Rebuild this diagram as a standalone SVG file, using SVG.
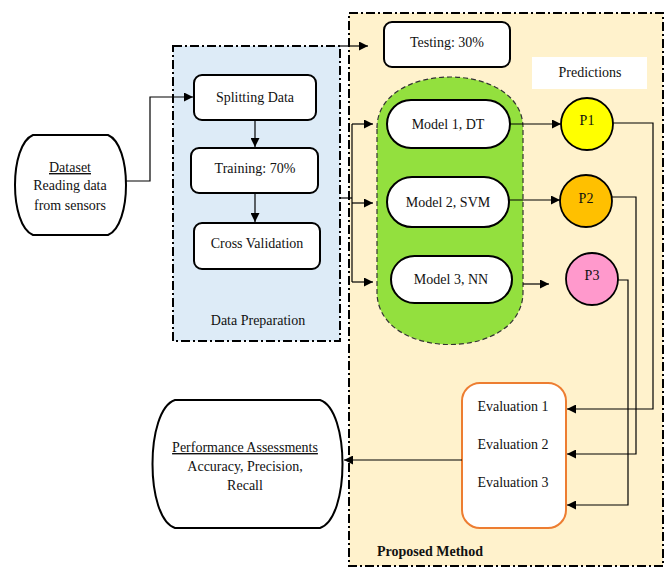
<svg xmlns="http://www.w3.org/2000/svg" width="668" height="569" viewBox="0 0 668 569">
<defs>
<style>
text{font-family:"Liberation Serif","Times New Roman",serif;font-size:14px;fill:#111;text-anchor:middle}
.box{fill:#fff;stroke:#000;stroke-width:2}
.region{stroke:#000;stroke-width:2;stroke-dasharray:9,3,2,3}
.conn{fill:none;stroke:#000;stroke-width:1.2}
.circ{stroke:#000;stroke-width:1.8}
</style>
<marker id="ah" viewBox="0 0 10 10" refX="10" refY="5" markerWidth="9" markerHeight="9" markerUnits="userSpaceOnUse" orient="auto">
<path d="M0,0 L10,5 L0,10 Z" fill="#000"/>
</marker>
</defs>
<rect width="668" height="569" fill="#fff"/>

<g id="proposed-method">
<rect class="region" x="349" y="13" width="314" height="553" fill="#FFF2CC"/>
<text x="430" y="556" font-weight="bold">Proposed Method</text>
</g>
<g id="data-preparation">
<rect class="region" x="173" y="46" width="167" height="295" fill="#DDEBF7"/>
<text x="258" y="325">Data Preparation</text>
</g>

<g id="models-group">
<path d="M377,128 C377,60 523,60 523,128 L523,292 C523,362 377,362 377,292 Z" fill="#93E03E" stroke="#333" stroke-width="1.2" stroke-dasharray="5,3"/>
</g>

<g id="dataset">
<path class="box" d="M33,135 L108,135 C132,145 132,225 108,235 L33,235 C9,225 9,145 33,135 Z"/>
<text x="70" y="172" text-decoration="underline">Dataset</text>
<text x="70" y="190">Reading data</text>
<text x="70" y="210">from sensors</text>
</g>
<g id="splitting">
<rect class="box" x="194" y="75" width="122" height="45" rx="8"/>
<text x="255" y="102">Splitting Data</text>
</g>
<g id="training">
<rect class="box" x="191" y="148" width="127" height="45" rx="8"/>
<text x="255" y="173">Training: 70%</text>
</g>
<g id="cross-validation">
<rect class="box" x="194" y="223" width="126" height="46" rx="8"/>
<text x="257" y="248">Cross Validation</text>
</g>
<g id="testing">
<rect class="box" x="384" y="22" width="126" height="45" rx="8"/>
<text x="447" y="47">Testing: 30%</text>
</g>
<g id="predictions">
<rect x="532" y="57" width="115" height="32" fill="#fff"/>
<text x="590" y="77">Predictions</text>
</g>
<g id="model1">
<rect class="box" x="387" y="100" width="123" height="48" rx="24"/>
<text x="448" y="129">Model 1, DT</text>
</g>
<g id="model2">
<rect class="box" x="387" y="177" width="122" height="50" rx="25"/>
<text x="448" y="207">Model 2, SVM</text>
</g>
<g id="model3">
<rect class="box" x="391" y="256" width="121" height="47" rx="23.5"/>
<text x="451" y="284">Model 3, NN</text>
</g>
<g id="p1">
<circle class="circ" cx="587" cy="124" r="26" fill="#FFFF00"/>
<text x="587" y="125">P1</text>
</g>
<g id="p2">
<circle class="circ" cx="586" cy="201" r="26" fill="#FFC000"/>
<text x="586" y="203">P2</text>
</g>
<g id="p3">
<circle class="circ" cx="592" cy="279" r="26" fill="#FF99CC"/>
<text x="592" y="280">P3</text>
</g>
<g id="evaluation">
<rect x="462" y="383" width="104" height="145" rx="18" fill="#fff" stroke="#ED7D31" stroke-width="2"/>
<text x="513" y="411">Evaluation 1</text>
<text x="513" y="449">Evaluation 2</text>
<text x="513" y="487">Evaluation 3</text>
</g>
<g id="performance">
<path class="box" d="M175,400 L320,400 C350,410 350,518 320,528 L175,528 C145,518 145,410 175,400 Z"/>
<text x="245" y="452" text-decoration="underline">Performance Assessments</text>
<text x="245" y="471">Accuracy, Precision,</text>
<text x="245" y="490">Recall</text>
</g>

<g id="connectors">
<path class="conn" d="M126,181 H150 V97 H193" marker-end="url(#ah)"/>
<path class="conn" d="M255,120 V147" marker-end="url(#ah)"/>
<path class="conn" d="M255,193 V222" marker-end="url(#ah)"/>
<path class="conn" d="M340,46 H368" marker-end="url(#ah)"/>
<path class="conn" d="M340,198 H352"/>
<path class="conn" d="M352,124 V282"/>
<path class="conn" d="M352,124 H373" marker-end="url(#ah)"/>
<path class="conn" d="M352,203 H373" marker-end="url(#ah)"/>
<path class="conn" d="M352,282 H373" marker-end="url(#ah)"/>
<path class="conn" d="M510,124 H561" marker-end="url(#ah)"/>
<path class="conn" d="M509,200 H560" marker-end="url(#ah)"/>
<path class="conn" d="M523,284 H549" marker-end="url(#ah)"/>
<path class="conn" d="M613,123 H653 V409 H567" marker-end="url(#ah)"/>
<path class="conn" d="M612,197 H636 V454 H567" marker-end="url(#ah)"/>
<path class="conn" d="M618,280 H628 V505 H567" marker-end="url(#ah)"/>
<path class="conn" d="M462,460 H344" marker-end="url(#ah)"/>
</g>
</svg>
